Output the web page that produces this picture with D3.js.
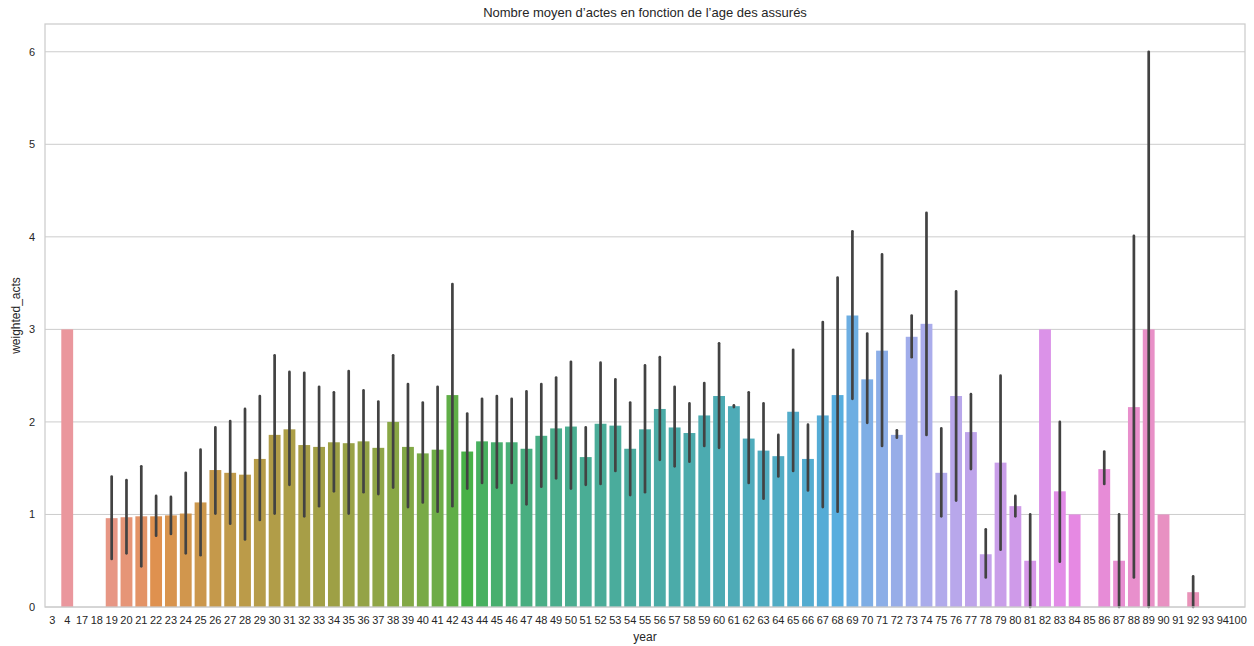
<!DOCTYPE html>
<html><head><meta charset="utf-8">
<script src="https://cdn.jsdelivr.net/npm/d3@7"></script>
<style>body{margin:0;background:#fff}svg{display:block;font-family:"Liberation Sans",Arial,sans-serif}</style>
</head><body><svg id="c" width="1254" height="646"></svg>
<script>
const categories = ["3","4","17","18","19","20","21","22","23","24","25","26","27","28","29","30","31","32","33","34","35","36","37","38","39","40","41","42","43","44","45","46","47","48","49","50","51","52","53","54","55","56","57","58","59","60","61","62","63","64","65","66","67","68","69","70","71","72","73","74","75","76","77","78","79","80","81","82","83","84","85","86","87","88","89","90","91","92","93","94","100"];
const values = [0,3.0,0,0,0.96,0.97,0.98,0.98,0.99,1.01,1.13,1.48,1.45,1.43,1.60,1.86,1.92,1.75,1.73,1.78,1.77,1.79,1.72,2.00,1.73,1.66,1.70,2.29,1.68,1.79,1.78,1.78,1.71,1.85,1.93,1.95,1.62,1.98,1.96,1.71,1.92,2.14,1.94,1.88,2.07,2.28,2.17,1.82,1.69,1.63,2.11,1.60,2.07,2.29,3.15,2.46,2.77,1.86,2.92,3.06,1.45,2.28,1.89,0.57,1.56,1.09,0.50,3.00,1.25,1.00,0,1.49,0.50,2.16,3.00,1.00,0,0.16,0,0,0];
const errLow = [null,null,null,null,0.52,0.58,0.44,0.77,0.79,0.58,0.56,1.01,0.90,0.73,0.94,1.01,1.32,0.98,1.09,1.25,1.01,1.24,1.22,1.29,1.08,1.13,1.03,1.09,1.28,1.34,1.29,1.34,1.11,1.30,1.39,1.28,1.32,1.33,1.47,1.21,1.24,1.59,1.52,1.57,1.74,1.72,2.16,1.34,1.17,1.41,1.47,1.26,1.08,1.03,2.25,1.99,1.74,1.83,2.70,1.86,0.98,1.15,1.49,0.32,0.62,0.98,0,null,0.49,null,null,1.33,0,0.32,0,null,null,0,null,null,null];
const errHigh = [null,null,null,null,1.41,1.37,1.52,1.20,1.19,1.45,1.70,1.94,2.01,2.14,2.28,2.72,2.54,2.53,2.38,2.32,2.55,2.34,2.22,2.72,2.41,2.21,2.38,3.49,2.09,2.25,2.28,2.25,2.33,2.41,2.48,2.65,1.94,2.64,2.46,2.21,2.61,2.70,2.38,2.20,2.42,2.85,2.18,2.32,2.20,1.86,2.78,1.97,3.08,3.56,4.06,2.955,3.81,1.91,3.15,4.26,1.93,3.41,2.30,0.84,2.50,1.20,1.0,null,2.0,null,null,1.68,1.0,4.01,6.0,null,null,0.33,null,null,null];
const yTicks = [0,1,2,3,4,5,6];
const title = "Nombre moyen d’actes en fonction de l’age des assurés";
const xLabel = "year", yLabel = "weighted_acts";

// HUSL (HSLuv) implementation, as used by seaborn's husl palette
const M = [[3.240969941904521,-1.537383177570093,-0.498610760293],
           [-0.96924363628087,1.87596750150772,0.041555057407175],
           [0.055630079696993,-0.20397695888897,1.056971514242878]];
const refU = 0.19783000664283, refV = 0.46831999493879, kappa = 903.2962962, eps = 0.0088564516;
function bounds(L){const s1=Math.pow(L+16,3)/1560896, s2=s1>eps?s1:L/kappa, r=[];
  for(const [m1,m2,m3] of M){for(const t of [0,1]){
    const top1=(284517*m1-94839*m3)*s2, top2=(838422*m3+769860*m2+731718*m1)*L*s2-769860*t*L,
          bot=(632260*m3-126452*m2)*s2+126452*t; r.push([top1/bot,top2/bot]);}}return r;}
function maxChroma(L,H){const h=H/360*2*Math.PI;let mn=Infinity;
  for(const [m,b] of bounds(L)){const len=b/(Math.sin(h)-m*Math.cos(h)); if(len>=0) mn=Math.min(mn,len);}return mn;}
function husl(H,S,L){
  const C=maxChroma(L,H)/100*S, h=H/180*Math.PI, U=C*Math.cos(h), V=C*Math.sin(h);
  const Y = L>8 ? Math.pow((L+16)/116,3) : L/kappa;
  const vu=U/(13*L)+refU, vv=V/(13*L)+refV;
  const X=0-(9*Y*vu)/((vu-4)*vv-vu*vv), Z=(9*Y-15*vv*Y-vv*X)/(3*vv);
  const f=c=>{c=c<=0.0031308?12.92*c:1.055*Math.pow(c,1/2.4)-0.055;return Math.max(0,Math.min(1,c));};
  const rgb=M.map(r=>f(r[0]*X+r[1]*Y+r[2]*Z));
  return d3.rgb(rgb[0]*255,rgb[1]*255,rgb[2]*255);
}
const n = categories.length;
const palette = categories.map((c,i)=>{
  let h=(i/n+0.01)%1; const col=d3.hsl(husl(h*359,0.9*99,0.7*99)); col.s*=0.75; return col.formatHex();
});

const W=1254,H=646, m={l:45,r:9,t:24,b:39};
const svg=d3.select("#c");
const x=d3.scaleBand().domain(categories).range([m.l,W-m.r]).paddingInner(0.2).paddingOuter(0.1);
const y=d3.scaleLinear().domain([0,6.3]).range([H-m.b,m.t]);

// grid
svg.append("g").selectAll("line").data(yTicks).join("line")
  .attr("x1",m.l).attr("x2",W-m.r).attr("y1",d=>y(d)).attr("y2",d=>y(d))
  .attr("stroke","#cccccc").attr("stroke-width",1);

// bars
svg.append("g").selectAll("rect").data(categories).join("rect")
  .attr("x",d=>x(d)).attr("width",x.bandwidth())
  .attr("y",(d,i)=>y(values[i])).attr("height",(d,i)=>y(0)-y(values[i]))
  .attr("fill",(d,i)=>palette[i]);

// error bars
svg.append("g").selectAll("line").data(categories.map((c,i)=>i).filter(i=>errLow[i]!==null)).join("line")
  .attr("x1",i=>x(categories[i])+x.bandwidth()/2).attr("x2",i=>x(categories[i])+x.bandwidth()/2)
  .attr("y1",i=>y(errLow[i])).attr("y2",i=>y(errHigh[i]))
  .attr("stroke","#424242").attr("stroke-width",2.7).attr("stroke-linecap","round");

// frame
svg.append("rect").attr("x",m.l).attr("y",m.t).attr("width",W-m.l-m.r).attr("height",H-m.t-m.b)
  .attr("fill","none").attr("stroke","#cccccc").attr("stroke-width",1.25);

// axes
const xa=svg.append("g").attr("transform",`translate(0,${H-m.b})`).call(d3.axisBottom(x).tickSize(0).tickPadding(9));
const ya=svg.append("g").attr("transform",`translate(${m.l},0)`).call(d3.axisLeft(y).tickValues(yTicks).tickFormat(d3.format("d")).tickSize(0).tickPadding(10));
[xa,ya].forEach(a=>{a.select(".domain").remove();a.selectAll("text").attr("fill","#262626").style("font-size","11px");});

svg.append("text").attr("x",(m.l+W-m.r)/2).attr("y",641).attr("text-anchor","middle")
  .attr("fill","#262626").style("font-size","12px").text(xLabel);
svg.append("text").attr("transform",`translate(20,${(m.t+H-m.b)/2}) rotate(-90)`).attr("text-anchor","middle")
  .attr("fill","#262626").style("font-size","12px").text(yLabel);
svg.append("text").attr("x",(m.l+W-m.r)/2).attr("y",17).attr("text-anchor","middle")
  .attr("fill","#262626").style("font-size","13px").text(title);
</script></body></html>
